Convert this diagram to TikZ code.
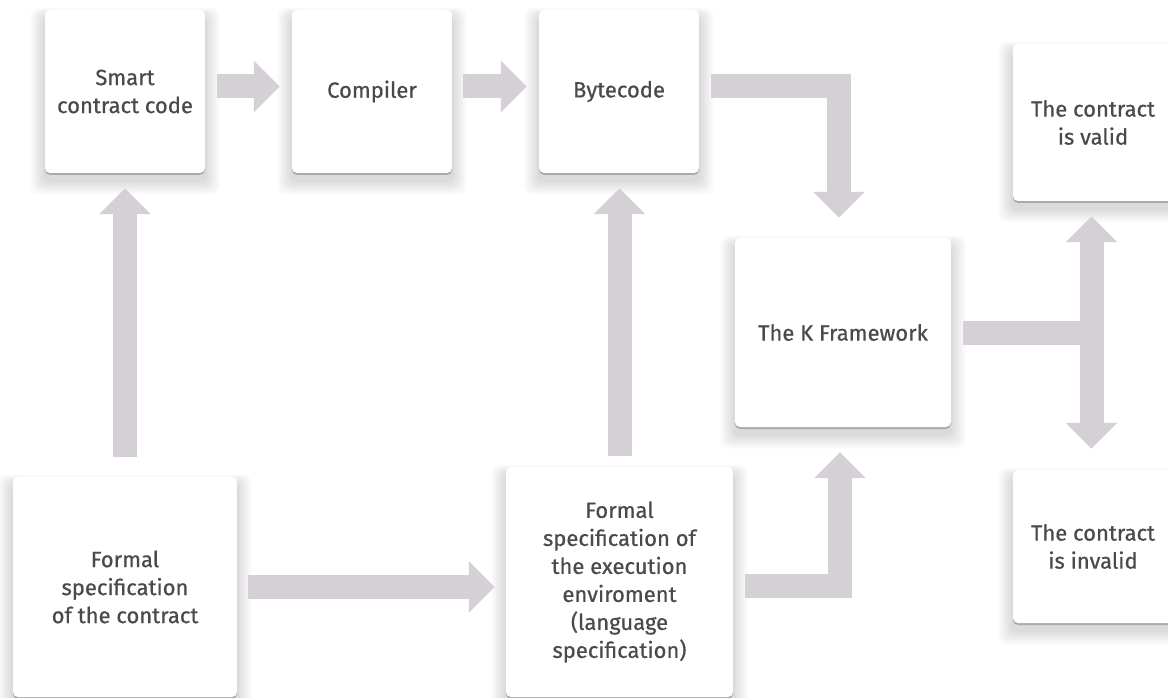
\documentclass[tikz,border=0pt]{standalone}
\usepackage{fontspec}
\newfontfamily\boxfont[FakeBold=0.6]{Fira Sans}
\usetikzlibrary{arrows.meta,calc,backgrounds}
\definecolor{arr}{HTML}{D4D0D5}
\definecolor{txt}{HTML}{4A4A4A}
\definecolor{edge}{HTML}{A9A9B1}
\tikzset{
  box/.style={rectangle, rounded corners=5pt, fill=white, text=txt,
    font=\boxfont\fontsize{22}{28}\selectfont, align=center, inner sep=0pt,
    preaction={fill=edge, transform canvas={yshift=-2pt}}},
  fatline/.style={draw=arr, line width=24pt, line cap=butt, line join=miter},
  fat/.style={fatline, -{Triangle[length=26pt,width=50pt]}},
  shade layer/.style={fill=black, fill opacity=0.017, rounded corners=8pt},
}
\begin{document}
\begin{tikzpicture}[x=1pt,y=1pt]
\useasboundingbox (0,0) rectangle (1168,-698);
\clip (0,0) rectangle (1168,-698);

\node[box, minimum width=160pt, minimum height=163pt] (smart) at (125,-91.5) {Smart\\contract code};
\node[box, minimum width=160pt, minimum height=163pt] (comp) at (372,-91.5) {Compiler};
\node[box, minimum width=160pt, minimum height=163pt] (byte) at (619,-91.5) {Bytecode};
\node[box, minimum width=216pt, minimum height=189pt] (kf) at (843,-332.5) {The K Framework};
\node[box, minimum width=160pt, minimum height=157pt] (valid) at (1093,-122.5) {The contract\\is valid};
\node[box, minimum width=160pt, minimum height=153pt] (invalid) at (1093,-546.5) {The contract\\is invalid};
\node[box, minimum width=224pt, minimum height=220pt] (formal) at (125,-587) {Formal\\specification\\of the contract};
\node[box, minimum width=227pt, minimum height=230pt] (exec) at (619.5,-582) {Formal\\specification of\\the execution\\enviroment\\(language\\specification)};

\begin{pgfonlayer}{background}
\fill[white] (0,0) rectangle (1168,-698);
\foreach \n in {smart,comp,byte,kf,valid,invalid,formal,exec}{
  \foreach \r in {1,...,9}{
    \fill[shade layer] ($(\n.south west)+(-1.6*\r pt,-1.6*\r pt-7pt)$) rectangle ($(\n.north east)+(1.6*\r pt,1.0*\r pt-7pt)$);
  }
}
\end{pgfonlayer}

\draw[fat, shorten <=12pt, shorten >=12pt] ([yshift=5pt]smart.east) -- ([yshift=5pt]comp.west);
\draw[fat, shorten <=11pt, shorten >=12pt] ([yshift=5pt]comp.east) -- ([yshift=5pt]byte.west);
\draw[fat, shorten <=12pt, shorten >=20pt] ([yshift=5pt]byte.east) -| ([xshift=-4pt]kf.north);
\draw[fat, shorten <=20pt, shorten >=15pt] (formal.north) -- (formal.north |- smart.south);
\draw[fat, shorten <=11pt, shorten >=11pt] (formal.east) -- (formal.east -| exec.west);
\draw[fat, shorten <=11pt, shorten >=15pt] (exec.north) -- (exec.north |- byte.south);
\draw[fat, shorten <=12pt, shorten >=25pt] ([yshift=-4pt]exec.east) -| ([xshift=-3pt]kf.south);
\coordinate (j) at (1091.5,-332.5);
\draw[fatline, shorten <=12pt] (kf.east) -- (j);
\draw[fat, shorten >=15pt] (j) -- (j |- valid.south);
\draw[fat, shorten >=21pt] (j) -- (j |- invalid.north);
\end{tikzpicture}
\end{document}
